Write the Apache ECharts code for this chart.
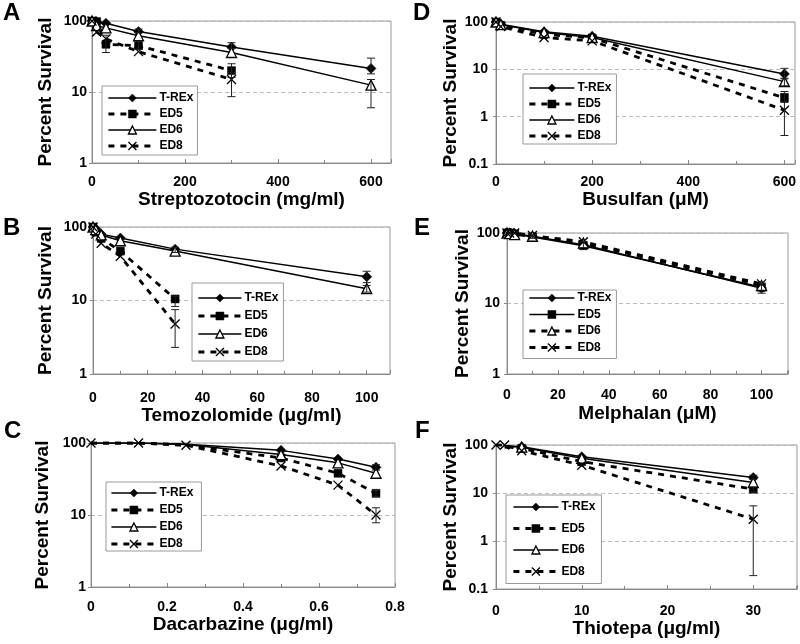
<!DOCTYPE html>
<html><head><meta charset="utf-8">
<script src="https://cdn.jsdelivr.net/npm/echarts@6/dist/echarts.min.js"></script>
<style>html,body{margin:0;padding:0;background:#fff}#c{width:800px;height:644px}</style>
</head><body><div id="c"></div>
<script>
const seriesNames = ['T-REx', 'ED5', 'ED6', 'ED8'];

// Panel A: Streptozotocin
const strepDose = [0, 10, 30, 100, 300, 600];
const strepTREx = [100, 97, 93, 71, 43, 21.5];
const strepED5 = [100, 98, 47, 45, 20, null];
const strepED6 = [100, 86, 80, 62, 36, 12.5];
const strepED8 = [100, 70, 56, 37, 15, null];
const strepErr = [[30, 36, 63], [100, 40, 52], [100, 68, 77], [300, 41, 49.5], [300, 16, 25], [300, 8.6, 19], [600, 18, 30], [600, 6, 15]];

// Panel B: Temozolomide
const temoDose = [0, 1, 3, 10, 30, 100];
const temoTREx = [100, 95, 80, 71, 50, 21];
const temoED5 = [100, 85, 70, 47, 10.5, null];
const temoED6 = [100, 92, 78, 65, 47, 14.5];
const temoED8 = [100, 80, 60, 40, 4.8, null];
const temoErr = [[30, 8.3, 11.5], [30, 2.3, 7.5], [100, 17.5, 25], [100, 13, 16], [30, 45, 53]];

// Panel C: Dacarbazine
const dacaDose = [0, 0.125, 0.25, 0.5, 0.65, 0.75];
const dacaTREx = [100, 100, 96, 79, 60, 46];
const dacaED5 = [100, 100, 94, 62, 38, 20];
const dacaED6 = [100, 100, 95, 69, 53, 38];
const dacaED8 = [100, 100, 93, 48, 26, 10];
const dacaErr = [[0.75, 7.8, 12.6], [0.75, 18, 22], [0.75, 42, 50]];

// Panel D: Busulfan
const busuDose = [0, 10, 100, 200, 600];
const busuTREx = [100, 90, 62, 50, 8];
const busuED5 = [100, 85, 55, 46, 2.5];
const busuED6 = [100, 88, 60, 47, 5.5];
const busuED8 = [100, 80, 47, 40, 1.37];
const busuErr = [[600, 6.5, 10.5], [600, 4.5, 6.3], [600, 2, 3.1], [600, 0.4, 3.4]];

// Panel E: Melphalan
const melpDose = [0, 1, 3, 10, 30, 100];
const melpTREx = [100, 100, 98, 90, 68, 16.5];
const melpED5 = [100, 100, 97, 88, 66, 17];
const melpED6 = [100, 98, 95, 90, 72, 18];
const melpED8 = [100, 100, 100, 92, 75, 19];
const melpErr = [[100, 14, 19.5], [30, 62, 76], [10, 84, 96]];

// Panel F: Thiotepa
const thioDose = [0, 1, 3, 10, 30];
const thioTREx = [null, 96, 92, 57, 21];
const thioED5 = [null, 90, 85, 45, 12];
const thioED6 = [null, 95, 90, 53, 16.5];
const thioED8 = [100, 100, 76, 38, 2.85];
const thioErr = [[30, 0.19, 5.4], [30, 10.5, 13.5], [30, 19, 23.5]];

const FONT = '"Liberation Sans", Arial, sans-serif';

// hideMarks: number of leading points drawn without a marker for the first three series
const panels = [
  {key: 'A', dose: strepDose, vals: [strepTREx, strepED5, strepED6, strepED8], err: strepErr,
   xName: 'Streptozotocin (mg/ml)', yMin: 1, xMax: 643, xInt: 200, showMax: false, hideMarks: 0,
   grid: {left: 92, top: 21, width: 299, height: 142}, xLabMargin: 12, xNameGap: 26, yLabMargin: 5, yNameGap: 37,
   legend: {left: 102, top: 86, pad: [6, 4, 3, 5], gap: 4, iw: 48}, letter: [3, 1], dash: [0, 1, 0, 1]},
  {key: 'B', dose: temoDose, vals: [temoTREx, temoED5, temoED6, temoED8], err: temoErr,
   xName: 'Temozolomide (\u03bcg/ml)', yMin: 1, xMax: 108.5, xInt: 20, showMax: false, hideMarks: 0,
   grid: {left: 93, top: 227, width: 297, height: 147}, xLabMargin: 17, xNameGap: 30, yLabMargin: 6, yNameGap: 38,
   legend: {left: 192, top: 283, pad: [9, 5, 3, 5], gap: 6, iw: 43}, letter: [3, 216], dash: [0, 1, 0, 1]},
  {key: 'C', dose: dacaDose, vals: [dacaTREx, dacaED5, dacaED6, dacaED8], err: dacaErr,
   xName: 'Dacarbazine (\u03bcg/ml)', yMin: 1, xMax: 0.8, xInt: 0.2, showMax: true, hideMarks: 3,
   grid: {left: 91, top: 443, width: 304, height: 144}, xLabMargin: 13, xNameGap: 27, yLabMargin: 5, yNameGap: 39,
   legend: {left: 106, top: 482, pad: [5, 8, 1, 4], gap: 5, iw: 45}, letter: [4, 419], dash: [0, 1, 0, 1]},
  {key: 'D', dose: busuDose, vals: [busuTREx, busuED5, busuED6, busuED8], err: busuErr,
   xName: 'Busulfan (\u03bcM)', yMin: 0.1, xMax: 622, xInt: 200, showMax: false, hideMarks: 0,
   grid: {left: 496, top: 22, width: 299, height: 142}, xLabMargin: 11, xNameGap: 25, yLabMargin: 8, yNameGap: 31,
   legend: {left: 523, top: 74, pad: [8, 5, 2, 5], gap: 4, iw: 45}, letter: [413, 1], dash: [0, 1, 0, 1]},
  {key: 'E', dose: melpDose, vals: [melpTREx, melpED5, melpED6, melpED8], err: melpErr,
   xName: 'Melphalan (\u03bcM)', yMin: 1, xMax: 110.4, xInt: 20, showMax: false, hideMarks: 0,
   grid: {left: 507, top: 233, width: 281, height: 141}, xLabMargin: 14, xNameGap: 30, yLabMargin: 7, yNameGap: 35,
   legend: {left: 523, top: 290, pad: [2, 5, 5, 5], gap: 4.5, iw: 45}, letter: [414, 216], dash: [0, 0, 1, 1]},
  {key: 'F', dose: thioDose, vals: [thioTREx, thioED5, thioED6, thioED8], err: thioErr,
   xName: 'Thiotepa (\u03bcg/ml)', yMin: 0.1, xMax: 35.1, xInt: 10, showMax: false, hideMarks: 2,
   grid: {left: 496, top: 445, width: 301, height: 144}, xLabMargin: 15, xNameGap: 30, yLabMargin: 8, yNameGap: 36,
   legend: {left: 506, top: 495, pad: [6, 6, 6, 6], gap: 9.5, iw: 45}, letter: [415, 419], dash: [0, 1, 0, 1]}
];

const xPath = 'path://M0,0L10,10M0,10L10,0';
const symbols = ['diamond', 'rect', 'triangle', xPath];
const symSizes = [10, 8, 10, 9];
const symFill = ['#000', '#000', '#fff', '#000'];

const grids = [], xAxes = [], yAxes = [], series = [], legends = [], graphics = [];

panels.forEach((p, i) => {
  grids.push(Object.assign({show: true, borderColor: '#999', borderWidth: 1, backgroundColor: 'transparent'}, p.grid));
  xAxes.push({
    type: 'value', gridIndex: i, min: 0, max: p.xMax, interval: p.xInt,
    name: p.xName, nameLocation: 'middle', nameGap: p.xNameGap,
    nameTextStyle: {fontFamily: FONT, fontWeight: 'bold', fontSize: 19, color: '#000'},
    axisLine: {show: true, lineStyle: {color: '#888', width: 1}},
    axisTick: {show: true, inside: true, length: 4, lineStyle: {color: '#888'}},
    minorTick: {show: true, splitNumber: 2, length: 3, lineStyle: {color: '#888'}},
    splitLine: {show: false},
    axisLabel: {fontFamily: FONT, fontWeight: 'bold', fontSize: 14, color: '#000', margin: p.xLabMargin,
      showMaxLabel: p.showMax, showMinLabel: true}
  });
  yAxes.push({
    type: 'log', logBase: 10, gridIndex: i, min: p.yMin, max: 100,
    name: 'Percent Survival', nameLocation: 'middle', nameRotate: 90, nameGap: p.yNameGap,
    nameTextStyle: {fontFamily: FONT, fontWeight: 'bold', fontSize: 19, color: '#000'},
    axisLine: {show: true, lineStyle: {color: '#888', width: 1}},
    axisTick: {show: true, length: 3, lineStyle: {color: '#888'}},
    splitLine: {show: true, lineStyle: {color: '#bbb', type: [4, 3], width: 1}},
    axisLabel: {fontFamily: FONT, fontWeight: 'bold', fontSize: 14, color: '#000', margin: p.yLabMargin}
  });
  const names = [];
  p.vals.forEach((vals, k) => {
    const name = p.key + '|' + seriesNames[k];
    names.push(name);
    const data = [];
    p.dose.forEach((d, j) => {
      if (vals[j] == null) return;
      const item = {value: [d, vals[j]]};
      if (k < 3 && j < p.hideMarks) item.symbol = 'none';
      data.push(item);
    });
    const dashed = p.dash[k] === 1;
    series.push({
      type: 'line', name: name, xAxisIndex: i, yAxisIndex: i, data: data,
      symbol: symbols[k], symbolSize: symSizes[k], showAllSymbol: true,
      lineStyle: {color: '#000', width: dashed ? 2.8 : 1.5, type: dashed ? [6, 6] : 'solid'},
      itemStyle: {color: symFill[k], borderColor: '#000', borderWidth: k >= 2 ? 1.3 : 0.5},
      emphasis: {disabled: true}, z: 3
    });
  });
  series.push({
    type: 'custom', xAxisIndex: i, yAxisIndex: i, data: p.err, silent: true, z: 4,
    encode: {x: 0, y: [1, 2]},
    renderItem: function (params, api) {
      const x = api.value(0);
      const top = api.coord([x, api.value(2)]);
      const bot = api.coord([x, api.value(1)]);
      const w = 4;
      const st = {stroke: '#222', lineWidth: 1};
      return {type: 'group', children: [
        {type: 'line', shape: {x1: top[0], y1: top[1], x2: bot[0], y2: bot[1]}, style: st},
        {type: 'line', shape: {x1: top[0] - w, y1: top[1], x2: top[0] + w, y2: top[1]}, style: st},
        {type: 'line', shape: {x1: bot[0] - w, y1: bot[1], x2: bot[0] + w, y2: bot[1]}, style: st}
      ]};
    }
  });
  legends.push({
    data: names, orient: 'vertical', left: p.legend.left, top: p.legend.top,
    padding: p.legend.pad, itemGap: p.legend.gap, itemWidth: p.legend.iw, itemHeight: 10,
    backgroundColor: '#fff', borderColor: '#999', borderWidth: 1, borderRadius: 0,
    selectedMode: false,
    formatter: n => n.split('|')[1],
    textStyle: {fontFamily: FONT, fontWeight: 'bold', fontSize: 12, color: '#000', padding: [0, 0, 0, -2]},
    lineStyle: {width: 'inherit', type: 'inherit', color: '#000'},
    itemStyle: {borderWidth: 'inherit', borderColor: '#000'}
  });
  graphics.push({type: 'text', left: p.letter[0], top: p.letter[1],
    style: {text: p.key, font: 'bold 24px ' + FONT, fill: '#000'}});
});

const chart = echarts.init(document.getElementById('c'), null, {renderer: 'canvas'});
chart.setOption({
  animation: false,
  backgroundColor: '#fff',
  grid: grids, xAxis: xAxes, yAxis: yAxes, series: series, legend: legends, graphic: graphics
});
</script></body></html>
